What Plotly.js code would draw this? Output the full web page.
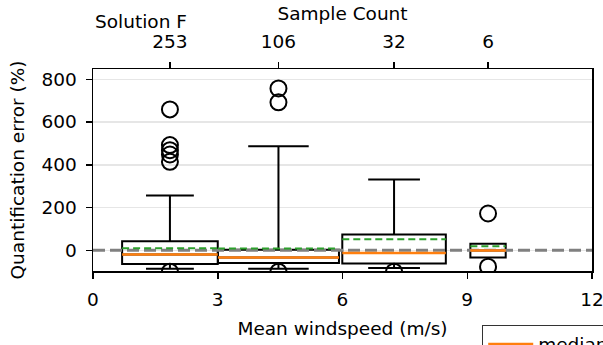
<!DOCTYPE html>
<html>
<head>
<meta charset="utf-8">
<script src="https://cdn.plot.ly/plotly-3.0.1.min.js"></script>
<style>
  html, body { margin: 0; padding: 0; background: #fff; }
  #chart { width: 603px; height: 345px; }
</style>
</head>
<body>
<div id="chart"></div>
<script>
// Quantification error per windspeed bin (Solution F)
const binCenters  = [1.85, 4.46, 7.24, 9.50];   // mean windspeed in each bin (m/s)
const binWidths   = [2.30, 2.91, 2.49, 0.85];   // box width along the windspeed axis (m/s)
const sampleCount = ['253', '106', '32', '6'];

const q1Values     = [-64, -60, -62, -34];
const medianValues = [-20, -34, -13, -1];
const q3Values     = [42, 2, 74, 31];
const lowerWhisker = [-86, -86, -83, -34];
const upperWhisker = [256, 487, 331, 31];
const meanValues   = [10, 8, 51, 19];

const outlierValues = [
  [659, 492, 468, 448, 414, -100],
  [757, 692, -100],
  [-100],
  [172, -77]
];

const xTicks = [0, 3, 6, 9, 12];
const yTicks = [0, 200, 400, 600, 800];

const FONT = 'DejaVu Sans, sans-serif';
const FS = 18.5;
const traces = [];

// one box per windspeed bin, from precomputed statistics
binCenters.forEach((c, i) => {
  traces.push({
    type: 'box',
    x: [c],
    q1: [q1Values[i]],
    median: [medianValues[i]],
    q3: [q3Values[i]],
    lowerfence: [lowerWhisker[i]],
    upperfence: [upperWhisker[i]],
    width: binWidths[i],
    whiskerwidth: 0.5,
    boxpoints: false,
    line: { color: '#000', width: 2 },
    fillcolor: 'rgba(0,0,0,0)',
    showlegend: false,
    hoverinfo: 'skip'
  });
});

// reference line at zero error
traces.push({
  type: 'scatter', mode: 'lines',
  x: [xTicks[0], xTicks[xTicks.length - 1]], y: [0, 0],
  line: { color: '#808080', width: 3, dash: '12px,5px' },
  showlegend: false, hoverinfo: 'skip'
});

// horizontal segments spanning each box
function segments(values) {
  const xs = [], ys = [];
  binCenters.forEach((c, i) => {
    xs.push(c - binWidths[i] / 2, c + binWidths[i] / 2, null);
    ys.push(values[i], values[i], null);
  });
  return { xs, ys };
}

const med = segments(medianValues);
traces.push({
  type: 'scatter', mode: 'lines', name: 'median',
  x: med.xs, y: med.ys,
  line: { color: '#ff7f0e', width: 2.5 },
  hoverinfo: 'skip'
});

const avg = segments(meanValues);
traces.push({
  type: 'scatter', mode: 'lines', name: 'mean',
  x: avg.xs, y: avg.ys,
  line: { color: '#2ca02c', width: 2, dash: '7px,4px' },
  hoverinfo: 'skip'
});

// outliers as open circles
const ox = [], oy = [];
outlierValues.forEach((vals, i) => vals.forEach(v => { ox.push(binCenters[i]); oy.push(v); }));
traces.push({
  type: 'scatter', mode: 'markers',
  x: ox, y: oy,
  marker: { symbol: 'circle-open', size: 16, color: '#000', line: { width: 2, color: '#000' } },
  showlegend: false, hoverinfo: 'skip'
});

// invisible trace carrying the top (sample count) axis
traces.push({
  type: 'scatter', mode: 'markers', xaxis: 'x2',
  x: binCenters, y: medianValues,
  marker: { opacity: 0 }, showlegend: false, hoverinfo: 'skip'
});

const layout = {
  width: 603, height: 345,
  margin: { l: 93, r: 11, t: 69, b: 74, pad: 0, autoexpand: false },
  paper_bgcolor: '#fff', plot_bgcolor: '#fff',
  font: { family: FONT, size: FS, color: '#000' },
  showlegend: true,
  legend: {
    x: 0.78, y: -0.265, xanchor: 'left', yanchor: 'top',
    bordercolor: '#333', borderwidth: 1, bgcolor: '#fff',
    itemwidth: 45,
    font: { family: FONT, size: FS, color: '#000' },
    traceorder: 'normal'
  },
  xaxis: {
    range: [0, 12], tickvals: xTicks, ticktext: xTicks.map(String),
    ticks: 'outside', ticklen: 6, tickwidth: 1.5, tickcolor: '#000',
    ticklabelstandoff: 5, ticklabeloverflow: 'allow',
    showline: true, linecolor: '#000', linewidth: 1.5, mirror: true,
    showgrid: false, zeroline: false, automargin: false,
    title: { text: 'Mean windspeed (m/s)', font: { family: FONT, size: FS }, standoff: 13 }
  },
  xaxis2: {
    overlaying: 'x', side: 'top', range: [0, 12],
    tickvals: binCenters, ticktext: sampleCount,
    ticks: 'outside', ticklen: 6, tickwidth: 1.5, tickcolor: '#000',
    ticklabelstandoff: 7, ticklabeloverflow: 'allow',
    showline: false, showgrid: false, zeroline: false, automargin: false,
    title: { text: 'Sample Count', font: { family: FONT, size: FS }, standoff: 5 }
  },
  yaxis: {
    range: [-97, 848], tickvals: yTicks, ticktext: yTicks.map(String),
    ticks: 'outside', ticklen: 6, tickwidth: 1.5, tickcolor: '#000',
    ticklabelstandoff: 5,
    showline: true, linecolor: '#000', linewidth: 1.5, mirror: true,
    showgrid: true, gridcolor: '#e6e6e6', gridwidth: 1.5, zeroline: false, automargin: false,
    title: { text: 'Quantification error (%)', font: { family: FONT, size: FS }, standoff: 12 }
  },
  annotations: [{
    text: 'Solution F', xref: 'paper', yref: 'paper',
    x: 0, y: 1.235, xanchor: 'left', yanchor: 'middle', showarrow: false,
    font: { family: FONT, size: FS, color: '#000' }
  }]
};

Plotly.newPlot('chart', traces, layout, { staticPlot: true, displayModeBar: false });
</script>
</body>
</html>
